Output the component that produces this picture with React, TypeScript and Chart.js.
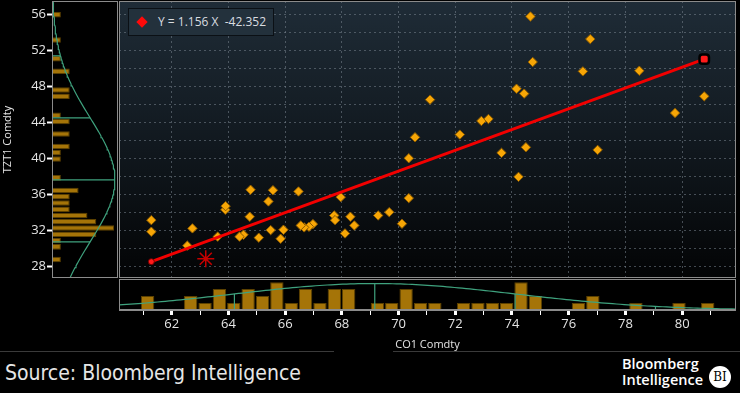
import React, { useEffect, useRef } from "react";
import { Chart, registerables } from "chart.js";

Chart.register(...registerables);

// ---- Data ----
const coX = [
  74.65, 76.76, 74.73, 76.5, 78.49, 74.16, 74.43, 80.78, 71.11, 79.75,
  72.92, 73.17, 72.16, 73.63, 74.49, 77.02, 74.23, 70.58, 70.36, 70.36,
  70.12, 69.67, 69.28, 68.44, 68.3, 68.11, 67.96, 67.73, 67.76, 66.98,
  66.84, 66.67, 66.55, 66.47, 65.94, 65.84, 65.49, 65.57, 65.41, 65.07,
  64.78, 64.75, 64.53, 64.39, 63.89, 63.9, 63.62, 62.73, 62.55, 61.28, 61.28,
];
const tztY = [
  55.78, 53.26, 50.71, 49.67, 49.74, 47.74, 47.19, 46.89, 46.52, 45.04,
  44.15, 44.37, 42.63, 40.6, 41.22, 40.93, 37.93, 42.33, 40.0, 35.56,
  32.71, 34.0, 33.63, 32.52, 33.49, 31.63, 35.67, 33.63, 33.11, 32.67,
  32.38, 32.3, 32.52, 36.3, 32.04, 31.04, 32.0, 36.44, 35.19, 31.16,
  36.49, 33.49, 31.49, 31.27, 34.27, 34.67, 31.27, 32.19, 30.27, 33.11, 31.82,
];
const lastX = [63.2];
const lastY = [28.82];

const regSlope = 1.156;
const regIntercept = -42.352;
const regXRange = [61.28, 80.78];
const legendText = "Y = 1.156 X  -42.352";

const xRange = [60.14, 81.9];
const yRange = [26.67, 57.5];
const xGridTicks = [62, 64, 66, 68, 70, 72, 74, 76, 78, 80];
const xAxisTicks = [61, 62, 63, 64, 65, 66, 67, 68, 69, 70, 71, 72, 73, 74, 75, 76, 77, 78, 79, 80, 81];
const yGridTicks = [28, 30, 32, 34, 36, 38, 40, 42, 44, 46, 48, 50, 52, 54, 56];
const yLabelTicks = [28, 32, 36, 40, 44, 48, 52, 56];

// histogram of CO1 (bottom)
const xHistStart = 60.896;
const xHistWidth = 0.5065;
const xHistCounts = [2, 0, 0, 2, 1, 3, 1, 3, 2, 4, 1, 3, 1, 3, 3, 0, 1, 1, 3, 1, 1, 0, 1, 1, 1, 1, 4, 2, 0, 0, 1, 2, 0, 0, 1, 0, 0, 1, 0, 1];
const xHistMaxAxis = 4.45;
const xCurvePeak = 3.8;
const xMean = 69.16;
const xSd = 4.95;

// histogram of TZT1 (left), bins from the bottom up
const yHistStart = 28.39;
const yHistWidth = 0.698;
const yHistCounts = [1, 0, 1, 1, 5, 7, 5, 4, 2, 2, 2, 3, 0, 1, 0, 0, 1, 1, 2, 0, 2, 0, 2, 1, 0, 0, 2, 2, 0, 0, 2, 0, 1, 0, 0, 1, 0, 0, 0, 1];
const yHistMaxAxis = 7.45;
const yCurvePeak = 7.1;
const yMean = 37.6;
const ySd = 6.9;

// ---- styles ----
const BAR_FILL = "#a57408";
const BAR_EDGE = "#5c4100";
const CURVE = "#3fa27e";
const FRAME = "#8b8b8b";
const LABEL = "#e4e4e4";
const TICK_FONT = { family: "'Open Sans', sans-serif", size: 13 };
const TITLE_FONT = { family: "'Open Sans', sans-serif", size: 11 };

function normalCurve(mean: number, sd: number, peak: number, lo: number, hi: number, steps = 160) {
  const pts: [number, number][] = [];
  for (let i = 0; i <= steps; i++) {
    const v = lo + ((hi - lo) * i) / steps;
    pts.push([v, peak * Math.exp(-0.5 * ((v - mean) / sd) ** 2)]);
  }
  return pts;
}
function sdMarks(mean: number, sd: number, peak: number, lo: number, hi: number) {
  return [-2, -1, 0, 1, 2]
    .map((k) => mean + k * sd)
    .filter((v) => v > lo && v < hi)
    .map((v) => [v, peak * Math.exp(-0.5 * ((v - mean) / sd) ** 2)] as [number, number]);
}

const panelPlugin = {
  id: "panel",
  beforeDraw(chart: any, _a: any, opts: any) {
    const { ctx, chartArea: a } = chart;
    if (!opts || !opts.top) return;
    ctx.save();
    const g = ctx.createLinearGradient(0, a.top, 0, a.bottom);
    g.addColorStop(0, opts.top);
    g.addColorStop(0.55, opts.mid);
    g.addColorStop(1, opts.bottom);
    ctx.fillStyle = g;
    ctx.fillRect(a.left, a.top, a.right - a.left, a.bottom - a.top);
    ctx.restore();
  },
  afterDraw(chart: any, _a: any, opts: any) {
    if (!opts || !opts.frame) return;
    const { ctx, chartArea: a } = chart;
    ctx.save();
    ctx.strokeStyle = opts.frame;
    ctx.lineWidth = 1;
    ctx.strokeRect(a.left + 0.5, a.top + 0.5, a.right - a.left - 1, a.bottom - a.top - 1);
    ctx.restore();
  },
};

export default function App() {
  const mainRef = useRef<HTMLCanvasElement>(null);
  const leftRef = useRef<HTMLCanvasElement>(null);
  const bottomRef = useRef<HTMLCanvasElement>(null);

  useEffect(() => {
    const charts: Chart[] = [];

    // ---- main scatter ----
    const points = coX.map((x, i) => ({ x, y: tztY[i] }));
    const regPoints = regXRange.map((x) => ({ x, y: regSlope * x + regIntercept }));
    charts.push(
      new Chart(mainRef.current!, {
        type: "scatter",
        data: {
          datasets: [
            {
              data: regPoints,
              showLine: true,
              borderColor: "#f20000",
              borderWidth: 3,
              pointRadius: [3, 5.5],
              pointStyle: ["circle", "rectRounded"],
              pointBackgroundColor: "#ff1a1a",
              pointBorderColor: ["#6a0000", "#000000"],
              pointBorderWidth: [1, 2.5],
            } as any,
            {
              data: lastX.map((x, i) => ({ x, y: lastY[i] })),
              pointStyle: "star",
              pointRadius: 8.5,
              borderColor: "#c80000",
              backgroundColor: "#c80000",
              borderWidth: 1.5,
            } as any,
            {
              data: points,
              pointStyle: "rectRot",
              pointRadius: 4.7,
              backgroundColor: "#f7a606",
              borderColor: "#8c5b00",
              borderWidth: 1,
            } as any,
          ],
        },
        options: {
          responsive: false,
          animation: false,
          layout: { padding: 0, autoPadding: false },
          plugins: {
            legend: { display: false },
            tooltip: { enabled: false },
            panel: { top: "#1f2c37", mid: "#10171d", bottom: "#030405", frame: FRAME },
          } as any,
          scales: {
            x: {
              type: "linear",
              min: xRange[0],
              max: xRange[1],
              afterBuildTicks: (s: any) => {
                s.ticks = xGridTicks.map((v) => ({ value: v }));
              },
              afterFit: (s: any) => {
                s.height = 0;
                s.paddingLeft = 0;
                s.paddingRight = 0;
              },
              ticks: { display: false },
              grid: { color: "rgba(120,132,142,0.55)", lineWidth: 1, drawTicks: false },
              border: { display: false, dash: [2, 3] },
            },
            y: {
              type: "linear",
              min: yRange[0],
              max: yRange[1],
              afterBuildTicks: (s: any) => {
                s.ticks = yGridTicks.map((v) => ({ value: v }));
              },
              afterFit: (s: any) => {
                s.width = 0;
                s.paddingTop = 0;
                s.paddingBottom = 0;
              },
              ticks: { display: false },
              grid: { color: "rgba(120,132,142,0.55)", lineWidth: 1, drawTicks: false },
              border: { display: false, dash: [2, 3] },
            },
          },
        },
        plugins: [panelPlugin],
      } as any)
    );

    // ---- left histogram (TZT1) ----
    const yCurve = normalCurve(yMean, ySd, yCurvePeak, yRange[0], yRange[1]);
    const yMarks = sdMarks(yMean, ySd, yCurvePeak, yRange[0], yRange[1]);
    charts.push(
      new Chart(leftRef.current!, {
        type: "bar",
        data: {
          datasets: [
            ...yMarks.map(([v, c]) => ({
              type: "line",
              data: [
                { x: 0, y: v },
                { x: c, y: v },
              ],
              borderColor: CURVE,
              borderWidth: 1.2,
              pointRadius: 0,
            })),
            {
              type: "line",
              data: yCurve.map(([v, c]) => ({ x: c, y: v })),
              borderColor: CURVE,
              borderWidth: 1.2,
              pointRadius: 0,
              tension: 0,
            },
            {
              type: "bar",
              indexAxis: "y",
              data: yHistCounts.map((c, i) => ({ x: c, y: yHistStart + (i + 0.5) * yHistWidth })),
              backgroundColor: BAR_FILL,
              borderColor: BAR_EDGE,
              borderWidth: 1,
              barPercentage: 0.88,
              categoryPercentage: 1,
            },
          ],
        },
        options: {
          responsive: false,
          animation: false,
          layout: { padding: 0, autoPadding: false },
          plugins: {
            legend: { display: false },
            tooltip: { enabled: false },
            panel: { frame: FRAME },
          } as any,
          scales: {
            x: {
              type: "linear",
              min: 0,
              max: yHistMaxAxis,
              display: false,
              offset: false,
              grid: { offset: false },
            },
            y: {
              type: "linear",
              position: "left",
              min: yRange[0],
              max: yRange[1],
              offset: false,
              afterBuildTicks: (s: any) => {
                s.ticks = yLabelTicks.map((v) => ({ value: v }));
              },
              afterFit: (s: any) => {
                s.width = 52;
                s.paddingTop = 0;
                s.paddingBottom = 0;
              },
              ticks: { color: LABEL, font: TICK_FONT, padding: 1, autoSkip: false },
              grid: {
                display: true,
                offset: false,
                drawOnChartArea: false,
                drawTicks: true,
                tickLength: 5,
                tickColor: "#ffffff",
                tickWidth: 2,
              },
              border: { display: true, color: FRAME },
              title: {
                display: true,
                text: "TZT1 Comdty",
                color: LABEL,
                font: TITLE_FONT,
                padding: { top: 1, bottom: 0 },
              },
            },
          },
        },
        plugins: [panelPlugin],
      } as any)
    );

    // ---- bottom histogram (CO1) ----
    const xCurve = normalCurve(xMean, xSd, xCurvePeak, xRange[0], xRange[1]);
    const xMarks = sdMarks(xMean, xSd, xCurvePeak, xRange[0], xRange[1]);
    charts.push(
      new Chart(bottomRef.current!, {
        type: "bar",
        data: {
          datasets: [
            ...xMarks.map(([v, c]) => ({
              type: "line",
              data: [
                { x: v, y: 0 },
                { x: v, y: c },
              ],
              borderColor: CURVE,
              borderWidth: 1.2,
              pointRadius: 0,
            })),
            {
              type: "line",
              data: xCurve.map(([v, c]) => ({ x: v, y: c })),
              borderColor: CURVE,
              borderWidth: 1.2,
              pointRadius: 0,
            },
            {
              type: "bar",
              data: xHistCounts.map((c, i) => ({ x: xHistStart + (i + 0.5) * xHistWidth, y: c })),
              backgroundColor: BAR_FILL,
              borderColor: BAR_EDGE,
              borderWidth: 1,
              barPercentage: 0.93,
              categoryPercentage: 1,
            },
          ],
        },
        options: {
          responsive: false,
          animation: false,
          layout: { padding: 0, autoPadding: false },
          plugins: {
            legend: { display: false },
            tooltip: { enabled: false },
            panel: { frame: FRAME },
          } as any,
          scales: {
            x: {
              type: "linear",
              position: "bottom",
              min: xRange[0],
              max: xRange[1],
              offset: false,
              afterBuildTicks: (s: any) => {
                s.ticks = xAxisTicks.map((v) => ({ value: v }));
              },
              afterFit: (s: any) => {
                s.height = 41;
                s.paddingLeft = 0;
                s.paddingRight = 0;
              },
              ticks: {
                color: LABEL,
                font: TICK_FONT,
                padding: 1,
                maxRotation: 0,
                autoSkip: false,
                callback: (v: any) => (Number(v) % 2 === 0 ? String(v) : ""),
              },
              grid: {
                display: true,
                offset: false,
                drawOnChartArea: false,
                drawTicks: true,
                tickLength: 5,
                tickColor: "#ffffff",
                tickWidth: (c: any) => (c.tick && c.tick.value % 2 === 0 ? 3 : 1),
              },
              border: { display: true, color: FRAME, width: 2 },
              title: {
                display: true,
                text: "CO1 Comdty",
                color: LABEL,
                font: TITLE_FONT,
                padding: 0,
              },
            },
            y: { type: "linear", min: 0, max: xHistMaxAxis, display: false, offset: false },
          },
        },
        plugins: [panelPlugin],
      } as any)
    );

    return () => charts.forEach((c) => c.destroy());
  }, []);

  return (
    <div
      style={{
        position: "fixed",
        left: 0,
        top: 0,
        width: 740,
        height: 393,
        background: "#000",
        overflow: "hidden",
        fontFamily: "'Open Sans', sans-serif",
      }}
    >
      <canvas ref={leftRef} width={118} height={277} style={{ position: "absolute", left: 0, top: 1, width: 118, height: 277 }} />
      <canvas ref={mainRef} width={617} height={277} style={{ position: "absolute", left: 119, top: 1, width: 617, height: 277 }} />
      <canvas ref={bottomRef} width={617} height={72} style={{ position: "absolute", left: 119, top: 279, width: 617, height: 72 }} />

      {/* regression legend */}
      <div
        style={{
          position: "absolute",
          left: 128,
          top: 8,
          width: 146,
          height: 28,
          boxSizing: "border-box",
          background: "#23313c",
          border: "1px solid #0b1015",
        }}
      >
        <div
          style={{
            position: "absolute",
            left: 9,
            top: 9,
            width: 8,
            height: 8,
            background: "#ff0a0a",
            transform: "rotate(45deg)",
          }}
        />
        <div
          style={{
            position: "absolute",
            left: 29,
            top: 5,
            whiteSpace: "pre",
            color: "#d9dde0",
            fontSize: 12,
            lineHeight: "16px",
          }}
        >
          {legendText}
        </div>
      </div>

      {/* separator */}
      <div style={{ position: "absolute", left: 0, top: 351, width: 334, height: 1, background: "#3a3a3a" }} />
      <div style={{ position: "absolute", left: 393, top: 351, width: 347, height: 1, background: "#3a3a3a" }} />

      {/* footer */}
      <div
        style={{
          position: "absolute",
          left: 5,
          top: 360,
          color: "#e6e6e6",
          fontFamily: "'DejaVu Sans Condensed', 'DejaVu Sans', sans-serif",
          fontSize: 21,
          lineHeight: "26px",
          whiteSpace: "nowrap",
        }}
      >
        Source: Bloomberg Intelligence
      </div>
      <div
        style={{
          position: "absolute",
          left: 622,
          top: 356,
          color: "#ffffff",
          fontWeight: 600,
          fontSize: 14.5,
          lineHeight: "16px",
        }}
      >
        <div>Bloomberg</div>
        <div>Intelligence</div>
      </div>
      <div
        style={{
          position: "absolute",
          left: 709,
          top: 366,
          width: 22,
          height: 22,
          borderRadius: "50%",
          background: "#ffffff",
          color: "#000",
          fontFamily: "'DejaVu Serif', serif",
          fontSize: 12,
          lineHeight: "22px",
          textAlign: "center",
        }}
      >
        BI
      </div>
    </div>
  );
}
